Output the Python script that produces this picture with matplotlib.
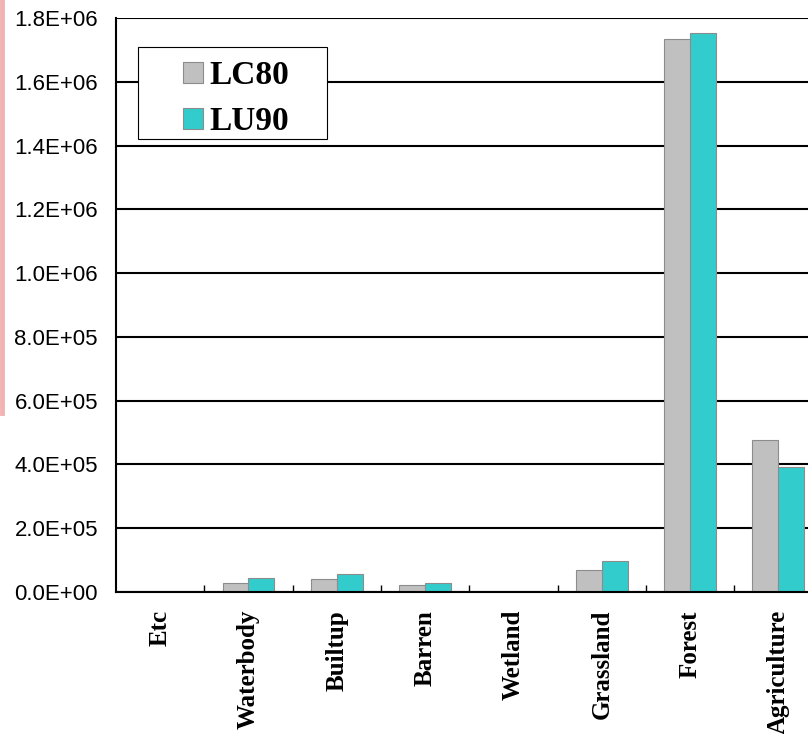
import numpy as np
import matplotlib as mpl
mpl.use('Agg')
import matplotlib.pyplot as plt
from matplotlib.lines import Line2D
from matplotlib.patches import Rectangle
from matplotlib.ticker import FixedLocator, FuncFormatter

categories = ['Etc', 'Waterbody', 'Builtup', 'Barren', 'Wetland', 'Grassland', 'Forest', 'Agriculture']
lc80 = [0, 29000, 40000, 22000, 0, 68000, 1735000, 478000]
lu90 = [0, 45000, 55000, 27000, 0, 97000, 1752000, 392000]

fig = plt.figure(figsize=(8.08, 7.34), dpi=100)
ax = fig.add_axes([116 / 808, 142 / 734, 706.6 / 808, 574 / 734])

x = np.arange(len(categories))
w = 0.294
ax.bar(x - w / 2, lc80, w, color='#C0C0C0', edgecolor='#8c8c8c', linewidth=0.8, label='LC80', zorder=3)
ax.bar(x + w / 2, lu90, w, color='#33CCCC', edgecolor='#8c8c8c', linewidth=0.8, label='LU90', zorder=3)

ax.set_xlim(-0.5, len(categories) - 0.5)
ax.set_ylim(0, 1.8e6)
ax.set_yticks(np.arange(0, 1.8e6 + 1, 2e5))


def sci(v, pos):
    if v <= 0:
        return "0.0E+00"
    e = int(np.floor(np.log10(v)))
    return f"{v / 10 ** e:.1f}E+{e:02d}"


ax.yaxis.set_major_formatter(FuncFormatter(sci))
ax.grid(axis='y', color='black', linewidth=1.5, zorder=1)
ax.tick_params(axis='y', length=0, pad=13, labelsize=16)
for lab in ax.get_yticklabels():
    lab.set_fontfamily('Liberation Sans')

ax.set_xticks(x)
ax.set_xticklabels(categories, rotation=90, fontfamily='Liberation Serif', fontweight='bold', fontsize=18, va='top', ha='center')
ax.tick_params(axis='x', which='major', length=0, pad=13)
ax.xaxis.set_minor_locator(FixedLocator(np.arange(0.5, len(categories), 1.0)))
ax.tick_params(axis='x', which='minor', direction='in', length=5, width=1, color='black')

for s in ['top', 'right']:
    ax.spines[s].set_visible(False)
for s in ['left', 'bottom']:
    ax.spines[s].set_linewidth(1.5)
    ax.spines[s].set_zorder(4)

# legend box drawn separately, Excel style with wide side padding
box = Rectangle((0.0311, 0.7892), 0.2675, 0.1603, transform=ax.transAxes, facecolor='white',
                edgecolor='black', linewidth=0.8, zorder=5)
ax.add_patch(box)
leg = ax.legend(loc='upper left', bbox_to_anchor=(0.0948, 0.927), frameon=False,
                prop={'family': 'Liberation Serif', 'weight': 'bold', 'size': 24}, handlelength=0.6, handleheight=0.6,
                handletextpad=0.2, labelspacing=0.45, borderpad=0, borderaxespad=0)
leg.set_zorder(6)

fig.add_artist(Line2D([2 / 808, 2 / 808], [(734 - 413) / 734, 1], color='#f2b3b3', linewidth=3.5))

fig.savefig('out.png', dpi=100)
